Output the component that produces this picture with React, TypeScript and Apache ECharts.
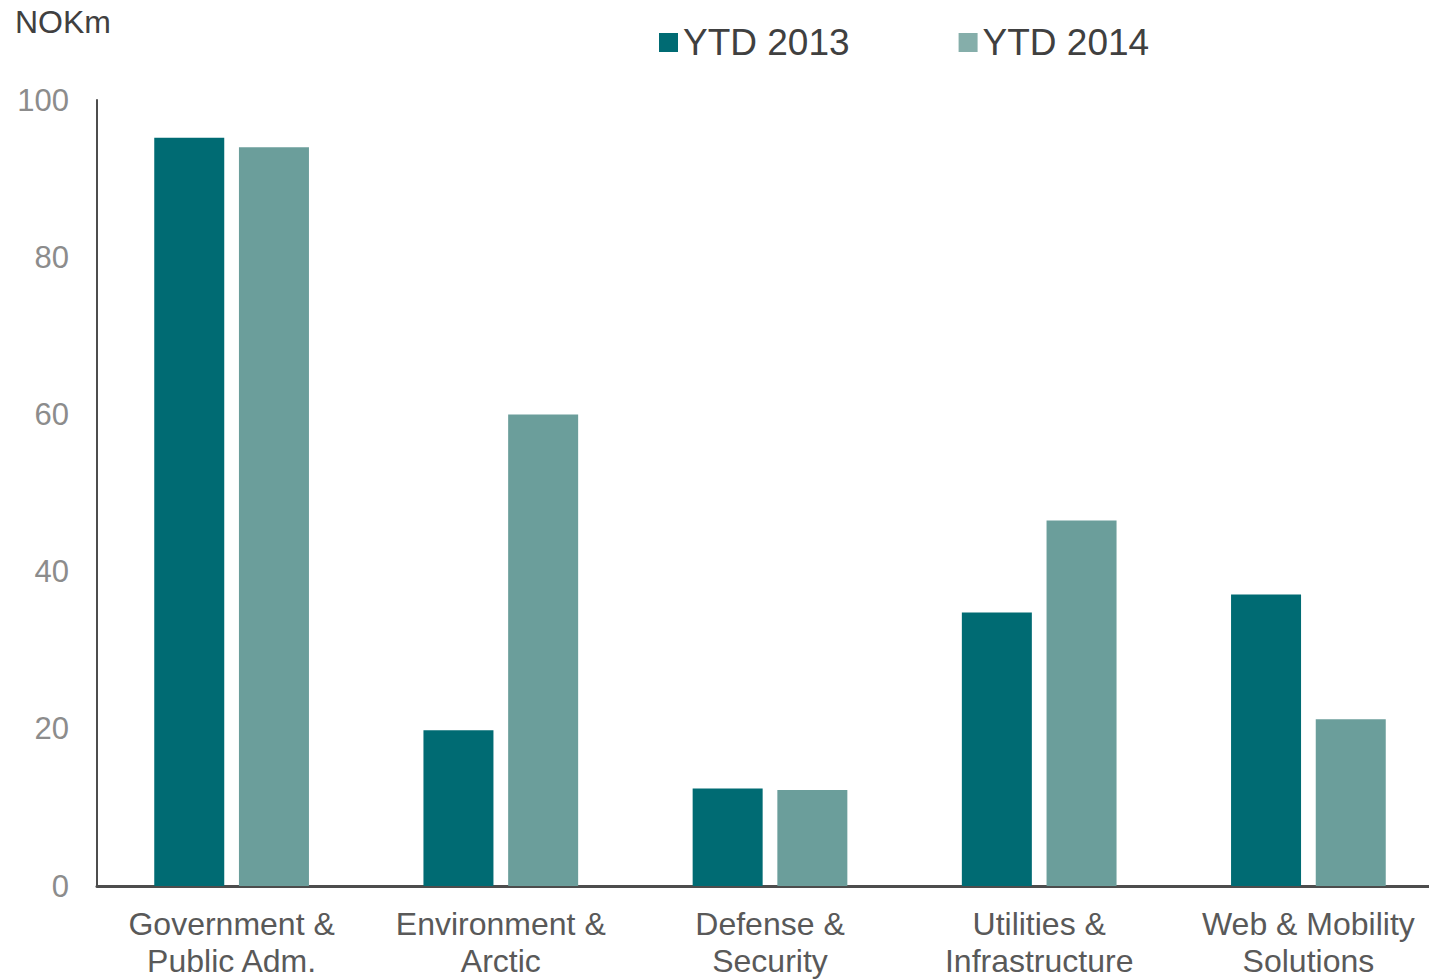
import React, { useEffect, useRef } from "react";
import * as echarts from "echarts";

const categories = [
  "Government &\nPublic Adm.",
  "Environment &\nArctic",
  "Defense &\nSecurity",
  "Utilities &\nInfrastructure",
  "Web & Mobility\nSolutions",
];
const ytd2013 = [95.2, 19.8, 12.4, 34.8, 37.1];
const ytd2014 = [94.0, 60.0, 12.2, 46.5, 21.2];
const yTicks = { min: 0, max: 100, interval: 20 };

const FONT = "'Liberation Sans', Arial, sans-serif";

export default function App() {
  const ref = useRef<HTMLDivElement>(null);
  useEffect(() => {
    if (!ref.current) return;
    const chart = echarts.init(ref.current, undefined, { renderer: "svg" });
    chart.setOption({
      animation: false,
      backgroundColor: "#ffffff",
      textStyle: { fontFamily: FONT },
      grid: { left: 97, right: 0, top: 100, bottom: 92, containLabel: false },
      legend: {
        left: 654,
        top: 19,
        itemWidth: 19,
        itemHeight: 19,
        itemGap: 109,
        icon: "rect",
        textStyle: { fontSize: 37, color: "#404040", fontFamily: FONT, padding: [0, 0, 0, 0] },
        data: [
          { name: "YTD 2013", itemStyle: { color: "#006B73" } },
          { name: "YTD 2014", itemStyle: { color: "#85AEAA" } },
        ],
      },
      graphic: [
        {
          type: "text",
          left: 15,
          top: 6,
          style: { text: "NOKm", fontSize: 32, fill: "#404040", fontFamily: FONT },
        },
      ],
      xAxis: {
        type: "category",
        data: categories,
        axisLine: { show: true, lineStyle: { color: "#4d4d4d", width: 3 } },
        axisTick: { show: false },
        axisLabel: {
          fontSize: 32,
          lineHeight: 37,
          color: "#595959",
          margin: 19,
          interval: 0,
          fontFamily: FONT,
        },
      },
      yAxis: {
        type: "value",
        min: yTicks.min,
        max: yTicks.max,
        interval: yTicks.interval,
        splitLine: { show: false },
        axisLine: { show: true, lineStyle: { color: "#4d4d4d", width: 2 } },
        axisTick: { show: false },
        axisLabel: { fontSize: 31, color: "#8c8c8c", margin: 28, fontFamily: FONT },
      },
      series: [
        {
          name: "YTD 2013",
          type: "bar",
          data: ytd2013,
          barWidth: 70,
          barGap: "21%",
          itemStyle: { color: "#006B73" },
        },
        {
          name: "YTD 2014",
          type: "bar",
          data: ytd2014,
          barWidth: 70,
          itemStyle: { color: "#6B9E9B" },
        },
      ],
    });
    return () => chart.dispose();
  }, []);
  return (
    <div
      style={{
        position: "absolute",
        left: 0,
        top: 0,
        width: 1429,
        height: 979,
        overflow: "hidden",
      }}
    >
      <div ref={ref} style={{ width: 1443, height: 979 }} />
    </div>
  );
}
